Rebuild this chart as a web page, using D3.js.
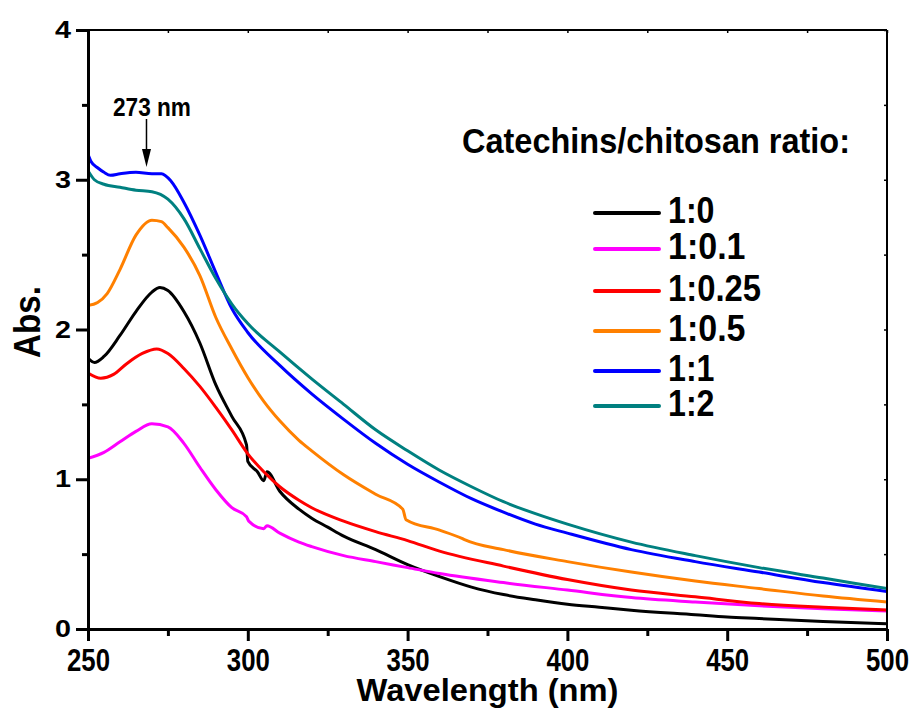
<!DOCTYPE html>
<html>
<head>
<meta charset="utf-8">
<script src="https://cdn.jsdelivr.net/npm/d3@7"></script>
<style>
  body { margin: 0; background: #fff; }
  svg text { font-family: "Liberation Sans", Arial, sans-serif; font-weight: bold; fill: #000; }
</style>
</head>
<body>
<svg width="914" height="711"></svg>
<script>
// series: [wavelength nm, absorbance]
var s_1_0 = [[250,1.81],[252,1.78],[255,1.82],[260,1.96],[265,2.12],[270,2.25],[272.5,2.28],[275,2.26],[280,2.12],[285,1.91],[290,1.63],[295,1.42],[299.6,1.23],[300,1.12],[303,1.05],[305,0.99],[306,1.05],[310,0.92],[316,0.80],[320,0.74],[325,0.68],[330,0.62],[340,0.53],[350,0.43],[360,0.35],[370,0.28],[380,0.23],[390,0.195],[400,0.165],[410,0.145],[420,0.125],[440,0.095],[450,0.08],[460,0.07],[480,0.05],[500,0.035]];
var s_1_01 = [[250,1.14],[255,1.18],[260,1.25],[265,1.32],[270,1.37],[275,1.35],[280,1.24],[285,1.08],[290,0.93],[295,0.81],[299.6,0.75],[300.3,0.72],[305,0.67],[306,0.69],[310,0.64],[316,0.58],[320,0.55],[330,0.49],[340,0.45],[350,0.41],[360,0.37],[380,0.31],[400,0.26],[420,0.21],[440,0.18],[460,0.155],[480,0.135],[500,0.12]];
var s_1_025 = [[250,1.71],[254,1.675],[258,1.70],[262,1.77],[267,1.84],[271.5,1.87],[275,1.84],[280,1.74],[285,1.62],[290,1.48],[295,1.33],[300,1.17],[305,1.05],[310,0.95],[316,0.86],[320,0.81],[330,0.72],[340,0.65],[350,0.59],[360,0.52],[380,0.42],[400,0.33],[420,0.26],[440,0.215],[460,0.17],[480,0.145],[500,0.127]];
var s_1_05 = [[250,2.16],[253,2.18],[256,2.24],[260,2.40],[265,2.63],[270,2.73],[273,2.72],[275,2.68],[280,2.55],[285,2.36],[290,2.08],[295,1.87],[300,1.68],[305,1.52],[310,1.39],[316,1.26],[320,1.19],[330,1.03],[340,0.90],[348.5,0.80],[349.5,0.73],[360,0.66],[367,0.605],[368,0.595],[380,0.53],[400,0.45],[420,0.38],[440,0.32],[460,0.27],[480,0.22],[500,0.18]];
var s_1_1 = [[250,3.17],[251,3.12],[253,3.08],[255,3.05],[257,3.03],[260,3.04],[265,3.05],[270,3.04],[273,3.04],[276,2.99],[280,2.85],[285,2.63],[290,2.38],[295,2.14],[300,1.98],[310,1.76],[320,1.57],[330,1.40],[340,1.24],[350,1.10],[360,0.98],[370,0.87],[380,0.78],[390,0.70],[400,0.64],[420,0.53],[440,0.45],[460,0.38],[480,0.31],[500,0.25]];
var s_1_2 = [[250,3.06],[252,3.00],[255,2.97],[260,2.95],[265,2.93],[270,2.92],[275,2.87],[280,2.74],[285,2.54],[290,2.34],[295,2.17],[300,2.04],[310,1.85],[320,1.67],[330,1.50],[340,1.33],[350,1.19],[360,1.06],[370,0.95],[380,0.85],[390,0.77],[400,0.70],[420,0.58],[440,0.49],[460,0.41],[480,0.34],[500,0.27]];

var series = [s_1_0, s_1_01, s_1_025, s_1_05, s_1_1, s_1_2];
var labels = ["1:0", "1:0.1", "1:0.25", "1:0.5", "1:1", "1:2"];
var colors = ["#000000", "#ff00ff", "#ff0000", "#ff8000", "#0000ff", "#008080"];
var legendY = [213, 249, 291, 331, 371, 406];

var xMajor = [250, 300, 350, 400, 450, 500];
var xMinor = [275, 325, 375, 425, 475];
var yMajor = [0, 1, 2, 3, 4];
var yMinor = [0.5, 1.5, 2.5, 3.5];

var svg = d3.select("svg");
// note: "top" is taken by window.top, so plot edges get their own names
var pLeft = 88, pRight = 887, pTop = 30, pBottom = 629;

var x = d3.scaleLinear().domain([250, 500]).range([pLeft, pRight]);
var y = d3.scaleLinear().domain([0, 4]).range([pBottom, pTop]);

svg.append("defs").append("clipPath").attr("id", "plot")
    .append("rect")
    .attr("x", pLeft).attr("y", pTop - 2)
    .attr("width", pRight - pLeft).attr("height", pBottom - pTop + 2);

// curves
var line = d3.line()
    .x(function (d) { return x(d[0]); })
    .y(function (d) { return y(d[1]); })
    .curve(d3.curveMonotoneX);

svg.append("g").attr("clip-path", "url(#plot)")
    .selectAll("path")
    .data(series)
    .enter().append("path")
    .attr("d", line)
    .attr("fill", "none")
    .attr("stroke", function (d, i) { return colors[i]; })
    .attr("stroke-width", 3)
    .attr("stroke-linejoin", "round");

// frame top / right
svg.append("line").attr("x1", pLeft).attr("x2", pRight).attr("y1", pTop).attr("y2", pTop)
    .attr("stroke", "#000").attr("stroke-width", 2);
svg.append("line").attr("x1", pRight).attr("x2", pRight).attr("y1", pTop).attr("y2", pBottom)
    .attr("stroke", "#000").attr("stroke-width", 2);

// small inward ticks on top and right
svg.append("g").attr("transform", "translate(0," + pTop + ")")
    .call(d3.axisTop(x).tickValues(xMajor.concat(xMinor)).tickSize(-3).tickFormat(""))
    .call(function (g) { g.select(".domain").remove(); g.selectAll("line").attr("stroke-width", 1.5); });
svg.append("g").attr("transform", "translate(" + pRight + ",0)")
    .call(d3.axisRight(y).tickValues(yMajor.concat(yMinor)).tickSize(-3).tickFormat(""))
    .call(function (g) { g.select(".domain").remove(); g.selectAll("line").attr("stroke-width", 1.5); });

// bottom axis
var gx = svg.append("g").attr("transform", "translate(0," + pBottom + ")");
gx.append("g")
    .call(d3.axisBottom(x).tickValues(xMinor).tickSize(7).tickSizeOuter(0).tickFormat(""))
    .call(function (g) { g.select(".domain").remove(); });
gx.append("g")
    .call(d3.axisBottom(x).tickValues(xMajor).tickSize(12).tickSizeOuter(0).tickPadding(8).tickFormat(d3.format("d")))
    .call(function (g) {
        g.select(".domain").attr("stroke-width", 3);
        g.selectAll("text").attr("font-size", 31).attr("textLength", 43).attr("lengthAdjust", "spacingAndGlyphs");
    });
gx.selectAll("line").attr("stroke-width", 3);

// left axis
var gy = svg.append("g").attr("transform", "translate(" + pLeft + ",0)");
gy.append("g")
    .call(d3.axisLeft(y).tickValues(yMinor).tickSize(6).tickSizeOuter(0).tickFormat(""))
    .call(function (g) { g.select(".domain").remove(); });
gy.append("g")
    .call(d3.axisLeft(y).tickValues(yMajor).tickSize(12).tickSizeOuter(0).tickPadding(5).tickFormat(d3.format("d")))
    .call(function (g) {
        g.select(".domain").attr("stroke-width", 3);
        g.selectAll("text").attr("font-size", 24).attr("textLength", 16).attr("lengthAdjust", "spacingAndGlyphs");
    });
gy.selectAll("line").attr("stroke-width", 3);

// axis titles
svg.append("text")
    .attr("x", (pLeft + pRight) / 2).attr("y", 701)
    .attr("text-anchor", "middle").attr("font-size", 32)
    .attr("textLength", 262).attr("lengthAdjust", "spacingAndGlyphs")
    .text("Wavelength (nm)");

svg.append("text")
    .attr("transform", "translate(40,322) rotate(-90)")
    .attr("text-anchor", "middle").attr("font-size", 37)
    .attr("textLength", 72).attr("lengthAdjust", "spacingAndGlyphs")
    .text("Abs.");

// peak annotation
svg.append("text")
    .attr("x", 113).attr("y", 116)
    .attr("font-size", 25)
    .attr("textLength", 78).attr("lengthAdjust", "spacingAndGlyphs")
    .text("273 nm");
svg.append("line")
    .attr("x1", x(268.3)).attr("x2", x(268.3)).attr("y1", 119).attr("y2", 152)
    .attr("stroke", "#000").attr("stroke-width", 1.5);
svg.append("path")
    .attr("d", "M" + (x(268.3) - 4.5) + ",149 L" + (x(268.3) + 4.5) + ",149 L" + x(268.3) + ",167 Z")
    .attr("fill", "#000");

// legend
svg.append("text")
    .attr("x", 462).attr("y", 153)
    .attr("font-size", 35)
    .attr("textLength", 388).attr("lengthAdjust", "spacingAndGlyphs")
    .text("Catechins/chitosan ratio:");

var legend = svg.append("g").selectAll("g")
    .data(labels)
    .enter().append("g")
    .attr("transform", function (d, i) { return "translate(0," + legendY[i] + ")"; });

legend.append("line")
    .attr("x1", 595).attr("x2", 659)
    .attr("stroke", function (d, i) { return colors[i]; })
    .attr("stroke-width", 4)
    .attr("stroke-linecap", "round");

legend.append("text")
    .attr("x", 668).attr("y", 10)
    .attr("font-size", 36)
    .attr("textLength", function (d) { return d.length * 15.5; })
    .attr("lengthAdjust", "spacingAndGlyphs")
    .text(function (d) { return d; });
</script>
</body>
</html>
